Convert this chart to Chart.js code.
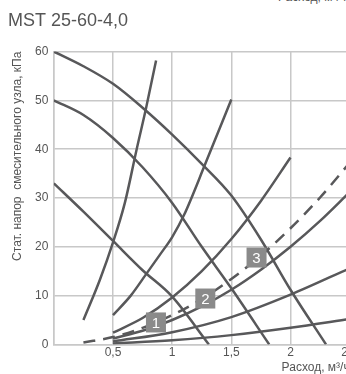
<!DOCTYPE html>
<html>
<head>
<meta charset="utf-8">
<script src="https://cdn.jsdelivr.net/npm/chart.js@4/dist/chart.umd.min.js"></script>
<style>
    body { margin: 0; width: 346px; height: 374px; overflow: hidden; background: #fff; position: relative; }
    #wrap { position: absolute; left: 0; top: 0; width: 359px; height: 374px; }
    #cut { position: absolute; left: 278px; top: -10px; font: 12px "Liberation Sans", Arial, sans-serif; color: #555; white-space: nowrap; line-height: 14px; }
</style>
</head>
<body>
<div id="cut">Расход, м³/ч</div>
<div id="wrap"><canvas id="miGrafico"></canvas></div>
<script>
// характеристики насоса (падающие)
const pumpA_x = [0, 0.25, 0.5, 0.75, 1.0, 1.25, 1.5, 1.75, 2.0, 2.3];
const pumpA_y = [60, 57, 53.4, 48.5, 43, 37, 30.5, 21.5, 11.2, 0];
const pumpB_x = [0, 0.25, 0.5, 0.75, 1.0, 1.25, 1.5, 1.82];
const pumpB_y = [50, 47, 42.3, 36.3, 29, 20, 11.5, 0];
const pumpC_x = [0, 0.25, 0.5, 0.75, 1.0, 1.31];
const pumpC_y = [33, 27.2, 21.2, 15.2, 9.8, 0];

// характеристики сети (растущие)
const sys1_x = [0.25, 0.39, 0.5, 0.6, 0.7, 0.78, 0.864];
const sys1_y = [5.0, 13.3, 20.9, 29, 40, 48.5, 58.2];
const sys2_x = [0.5, 0.65, 0.78, 0.9, 1.0, 1.1, 1.28, 1.5];
const sys2_y = [6.0, 10, 14.4, 18.5, 22, 26.5, 37, 50.2];
const sys3_x = [0.5, 0.75, 1.0, 1.25, 1.5, 1.75, 2.0];
const sys3_y = [2.4, 5.4, 9.6, 15, 21.6, 29.4, 38.3];
const sys4_x = [0.5, 0.75, 1.0, 1.25, 1.5, 1.75, 2.0, 2.25, 2.5];
const sys4_y = [1.2, 2.8, 5, 7.8, 11.2, 15.3, 20, 25.3, 31.2];
const sys5_x = [0.5, 1.0, 1.5, 2.0, 2.5];
const sys5_y = [0.6, 2.5, 5.6, 10.2, 15.6];
const sys6_x = [0.5, 1.0, 1.5, 2.0, 2.5];
const sys6_y = [0.2, 0.85, 1.9, 3.4, 5.2];
const dash_x = [0.25, 0.5, 0.75, 1.0, 1.25, 1.5, 1.75, 2.0, 2.25, 2.5];
const dash_y = [0.4, 1.5, 3.4, 6, 9.3, 13.4, 18.2, 23.8, 30.1, 37.2];

// метки 1, 2, 3
const markText = ['1', '2', '3'];
const markX = [0.863, 1.28, 1.713];
const markY = [4.5, 9.4, 17.8];

const xTicks = [0, 0.5, 1, 1.5, 2, 2.5];

const lineColor = '#58585a';
const gridColor = '#c8c8c8';
const fontName = '"Liberation Sans", Arial, sans-serif';

function puntos(xs, ys) {
    return xs.map((v, i) => ({x: v, y: ys[i]}));
}

function serie(xs, ys, dashed) {
    return {
        data: puntos(xs, ys),
        showLine: true,
        borderColor: lineColor,
        borderWidth: 2.5,
        borderDash: dashed ? [12, 8] : [],
        pointRadius: 0,
        cubicInterpolationMode: 'monotone',
        fill: false
    };
}

const marcas = {
    id: 'marcas',
    afterDatasetsDraw(chart) {
        const c = chart.ctx;
        const sx = chart.scales.x, sy = chart.scales.y;
        c.save();
        for (let i = 0; i < markText.length; i++) {
            const px = sx.getPixelForValue(markX[i]);
            const py = sy.getPixelForValue(markY[i]);
            c.fillStyle = '#8a8a8a';
            c.fillRect(px - 10, py - 10, 20, 20);
            c.fillStyle = '#ffffff';
            c.font = '15px ' + fontName;
            c.textAlign = 'center';
            c.textBaseline = 'middle';
            c.fillText(markText[i], px, py + 1);
        }
        c.restore();
    }
};

var ctx = document.getElementById('miGrafico').getContext('2d');
var miGrafico = new Chart(ctx, {
    type: 'scatter',
    data: {
        datasets: [
            serie(pumpA_x, pumpA_y),
            serie(pumpB_x, pumpB_y),
            serie(pumpC_x, pumpC_y),
            serie(sys1_x, sys1_y),
            serie(sys2_x, sys2_y),
            serie(sys3_x, sys3_y),
            serie(sys4_x, sys4_y),
            serie(sys5_x, sys5_y),
            serie(sys6_x, sys6_y),
            serie(dash_x, dash_y, true)
        ]
    },
    options: {
        responsive: true,
        maintainAspectRatio: false,
        animation: false,
        layout: { padding: { left: 8, right: 0, top: 0, bottom: 0 } },
        plugins: {
            legend: { display: false },
            tooltip: { enabled: false },
            title: {
                display: true,
                text: 'MST 25-60-4,0',
                align: 'start',
                color: '#555',
                font: { family: fontName, size: 18, weight: 'normal' },
                padding: { top: 10, bottom: 20 }
            }
        },
        scales: {
            x: {
                type: 'linear',
                min: 0,
                max: 2.5,
                afterBuildTicks(scale) {
                    scale.ticks = xTicks.map(v => ({value: v}));
                },
                grid: { color: gridColor, lineWidth: 1.5, drawTicks: false },
                border: { color: gridColor, width: 1.5 },
                ticks: {
                    padding: 1,
                    color: '#555',
                    font: { family: fontName, size: 12 },
                    callback: v => v === 0 ? '' : String(v).replace('.', ',')
                },
                title: {
                    display: true,
                    text: 'Расход, м³/ч',
                    align: 'end',
                    color: '#555',
                    font: { family: fontName, size: 12 },
                    padding: { top: 0, bottom: -1.2 }
                }
            },
            y: {
                min: 0,
                max: 60,
                grid: { color: gridColor, lineWidth: 1.5, drawTicks: false },
                border: { color: gridColor, width: 1.5 },
                ticks: {
                    stepSize: 10,
                    padding: 5.5,
                    color: '#555',
                    font: { family: fontName, size: 12 }
                },
                title: {
                    display: true,
                    text: 'Стат. напор  смесительного узла, кПа',
                    align: 'end',
                    color: '#555',
                    font: { family: fontName, size: 12 },
                    padding: { top: 2.8, bottom: 4.3 }
                }
            }
        }
    },
    plugins: [marcas]
});
</script>
</body>
</html>
